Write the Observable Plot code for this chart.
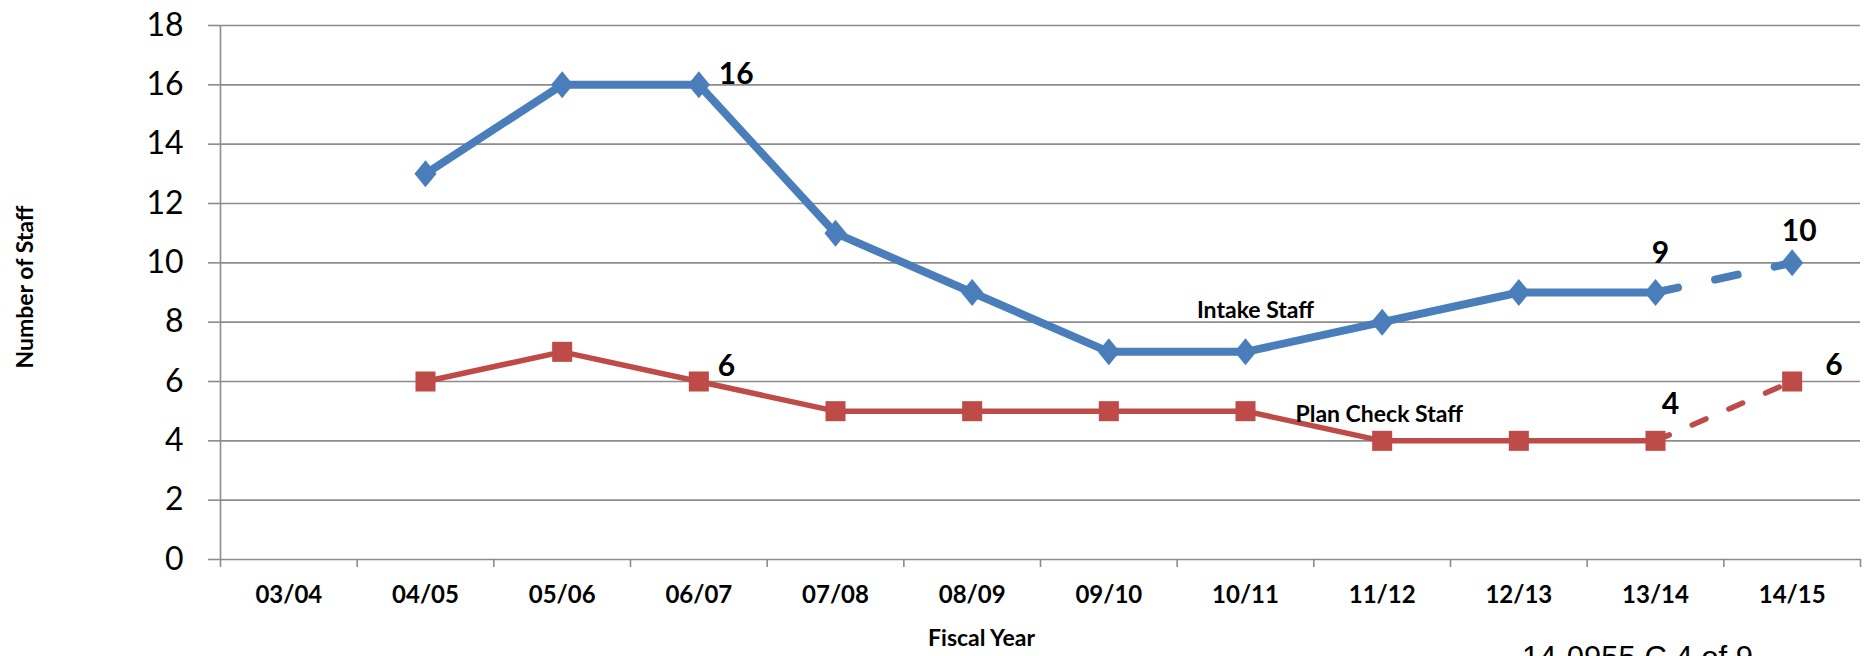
<!DOCTYPE html>
<html>
<head>
<meta charset="utf-8">
<script src="https://cdn.jsdelivr.net/npm/d3@7"></script>
<script src="https://cdn.jsdelivr.net/npm/@observablehq/plot@0.6"></script>
<style>
  html, body { margin: 0; padding: 0; background: white; overflow: hidden; }
  #chart { position: relative; width: 1865px; height: 656px; }
  #caption { position: absolute; left: 1522px; top: 642px; font-family: "Liberation Sans", Arial, sans-serif; font-size: 31px; line-height: 1; color: #000; white-space: nowrap; }
</style>
</head>
<body>
<div id="chart"></div>
<script>
// ---- data ----
const categories = ["03/04","04/05","05/06","06/07","07/08","08/09","09/10","10/11","11/12","12/13","13/14","14/15"];
const intakeStaff = [null, 13, 16, 16, 11, 9, 7, 7, 8, 9, 9, 10];
const planCheckStaff = [null, 6, 7, 6, 5, 5, 5, 5, 4, 4, 4, 6];
const projectedFrom = "13/14";
const yTicks = [0, 2, 4, 6, 8, 10, 12, 14, 16, 18];
const seriesNames = ["Intake Staff", "Plan Check Staff"];
const yTitle = "Number of Staff";
const xTitle = "Fiscal Year";
const captionText = "14-0955 C 4 of 9";

// ---- build table ----
const rows = categories.map((c, i) => ({cat: c, i, x: i + 0.5, intake: intakeStaff[i], plan: planCheckStaff[i]}));
const pIdx = categories.indexOf(projectedFrom);
const boundaries = d3.range(categories.length + 1);

const blue = "#4a7ebb";
const red = "#be4b48";
const gray = "#8c8c8c";

const diamond = {
  draw(context, size) {
    const r = Math.sqrt(size / Math.PI);
    const w = r * 0.82;
    context.moveTo(0, -r);
    context.lineTo(w, 0);
    context.lineTo(0, r);
    context.lineTo(-w, 0);
    context.closePath();
  }
};

const lbl = (series, cat, opts) => Plot.text(rows.filter(d => d.cat === cat), {
  x: "x", y: series, text: d => String(d[series]), lineAnchor: "bottom",
  fontSize: 30, fontWeight: "bold", fill: "black", ...opts
});

const chart = Plot.plot({
  width: 1865,
  height: 656,
  marginLeft: 220,
  marginRight: 5,
  marginTop: 25,
  marginBottom: 97,
  style: {fontFamily: "Lato, 'Open Sans', sans-serif", background: "white", color: "black"},
  x: {type: "linear", domain: [0, categories.length], label: null},
  y: {domain: [0, 18], label: null},
  marks: [
    Plot.gridY(yTicks, {stroke: gray, strokeOpacity: 1, strokeWidth: 1.6}),
    Plot.axisY(yTicks, {tickSize: 12, stroke: gray, strokeWidth: 1.6, tickFormat: () => "", label: null}),
    Plot.axisY(yTicks, {tickSize: 0, tickPadding: 37, fontSize: 32, fill: "black", label: null}),
    Plot.ruleX([0], {y1: 0, y2: 18, stroke: gray, strokeWidth: 1.6}),
    Plot.axisX(boundaries, {tickSize: 8, stroke: gray, strokeWidth: 1.6, tickFormat: () => "", label: null}),
    Plot.axisX(rows.map(d => d.x), {tickSize: 0, tickPadding: 26, fontSize: 24, fontWeight: "bold", fill: "black",
      tickFormat: v => categories[Math.round(v - 0.5)], label: null}),

    // plan check
    Plot.line(rows.filter(d => d.plan != null && d.i <= pIdx), {x: "x", y: "plan", stroke: red, strokeWidth: 5.5, strokeLinejoin: "round"}),
    Plot.line(rows.filter(d => d.plan != null && d.i >= pIdx), {x: "x", y: "plan", stroke: red, strokeWidth: 5.5, strokeDasharray: "15,25", strokeLinecap: "round"}),
    Plot.dot(rows.filter(d => d.plan != null), {x: "x", y: "plan", symbol: "square", r: 11.3, fill: red, stroke: "none"}),

    // intake
    Plot.line(rows.filter(d => d.intake != null && d.i <= pIdx), {x: "x", y: "intake", stroke: blue, strokeWidth: 8, strokeLinejoin: "round"}),
    Plot.line(rows.filter(d => d.intake != null && d.i >= pIdx), {x: "x", y: "intake", stroke: blue, strokeWidth: 8, strokeDasharray: "23,38", strokeLinecap: "round"}),
    Plot.dot(rows.filter(d => d.intake != null), {x: "x", y: "intake", symbol: diamond, r: 13.5, fill: blue, stroke: "none"}),

    // data labels
    lbl("intake", "06/07", {textAnchor: "start", dx: 20, dy: -1}),
    lbl("intake", "13/14", {textAnchor: "middle", dx: 5, dy: -30}),
    lbl("intake", "14/15", {textAnchor: "middle", dx: 7, dy: -22}),
    lbl("plan", "06/07", {textAnchor: "start", dx: 19, dy: -6}),
    lbl("plan", "13/14", {textAnchor: "middle", dx: 15, dy: -27}),
    lbl("plan", "14/15", {textAnchor: "start", dx: 33, dy: -7}),

    // series labels
    Plot.text(rows.filter(d => d.cat === "10/11"), {x: "x", y: "intake", text: () => seriesNames[0], lineAnchor: "bottom", textAnchor: "middle", dx: 10, dy: -34, fontSize: 23, fontWeight: "bold", fill: "black"}),
    Plot.text(rows.filter(d => d.cat === "11/12"), {x: "x", y: "plan", text: () => seriesNames[1], lineAnchor: "bottom", textAnchor: "middle", dx: -3, dy: -19, fontSize: 23, fontWeight: "bold", fill: "black"}),

    // axis titles
    Plot.text([yTitle], {frameAnchor: "left", rotate: -90, lineAnchor: "bottom", textAnchor: "middle", dx: -188, dy: -5.5, fontSize: 23, fontWeight: "bold", fill: "black"}),
    Plot.text([xTitle], {frameAnchor: "bottom", lineAnchor: "bottom", textAnchor: "middle", dx: -59, dy: 86, fontSize: 23, fontWeight: "bold", fill: "black"})
  ]
});

const container = document.getElementById("chart");
container.appendChild(chart);
const cap = document.createElement("div");
cap.id = "caption";
cap.textContent = captionText;
container.appendChild(cap);
</script>
</body>
</html>
